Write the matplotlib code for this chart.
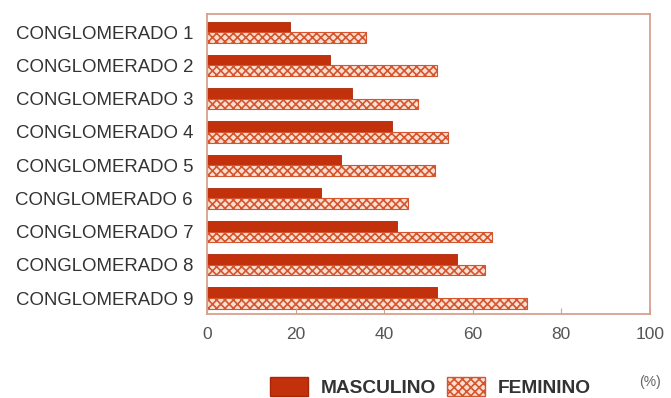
import matplotlib.pyplot as plt
import numpy as np
from matplotlib.patches import Patch

categories = [f"CONGLOMERADO {i}" for i in range(1, 10)]
masculino = [18.7, 27.8, 32.7, 41.8, 30.2, 25.7, 42.9, 56.4, 51.9]
feminino = [35.9, 52.0, 47.6, 54.4, 51.5, 45.4, 64.3, 62.8, 72.2]
x_ticks = [0, 20, 40, 60, 80, 100]

RED = "#c2300c"
FEM_FACE = "#fbe0d2"
FEM_EDGE = "#d4552e"
FRAME = "#d8a08c"

plt.rcParams['font.family'] = ['Liberation Sans', 'DejaVu Sans']
plt.rcParams['hatch.linewidth'] = 1.2

fig = plt.figure(figsize=(6.71, 3.98), dpi=100)
ax = fig.add_axes([0.3085, 0.211, 0.660, 0.754])

y = np.arange(len(categories))
h = 0.32
ax.barh(y - h / 2, masculino, height=h, color=RED, edgecolor="#a82808",
        linewidth=0.6)
ax.barh(y + h / 2, feminino, height=h, facecolor=FEM_FACE,
        edgecolor=FEM_EDGE, hatch="xxxx", linewidth=0.8)

ax.set_xlim(0, 100)
ax.set_ylim(8.48, -0.55)
ax.set_yticks(y)
ax.set_yticklabels(categories, fontsize=13.4, color="#333333")
ax.set_xticks(x_ticks)
ax.set_xticklabels([str(v) for v in x_ticks], fontsize=12.5, color="#555555")
ax.tick_params(axis='y', length=0, pad=10)
ax.tick_params(axis='x', direction='in', length=4, color=FRAME, pad=9)
for sp in ax.spines.values():
    sp.set_color(FRAME)
    sp.set_linewidth(1.3)

fig.text(0.968, 0.04, "(%)", fontsize=10, color="#666666",
         ha='center', va='center')

handles = [
    Patch(facecolor=RED, edgecolor="#a82808", label="MASCULINO"),
    Patch(facecolor=FEM_FACE, edgecolor=FEM_EDGE, hatch="xxxx",
          label="FEMININO"),
]
leg = fig.legend(handles=handles, loc='center', ncol=2,
                 bbox_to_anchor=(0.641, 0.027), frameon=False,
                 handlelength=2.0, handleheight=1.1, columnspacing=0.55,
                 handletextpad=0.65, borderpad=0.0,
                 prop={'weight': 'bold', 'size': 13.8})
for t in leg.get_texts():
    t.set_color("#333333")

fig.savefig("out.png", dpi=100)
